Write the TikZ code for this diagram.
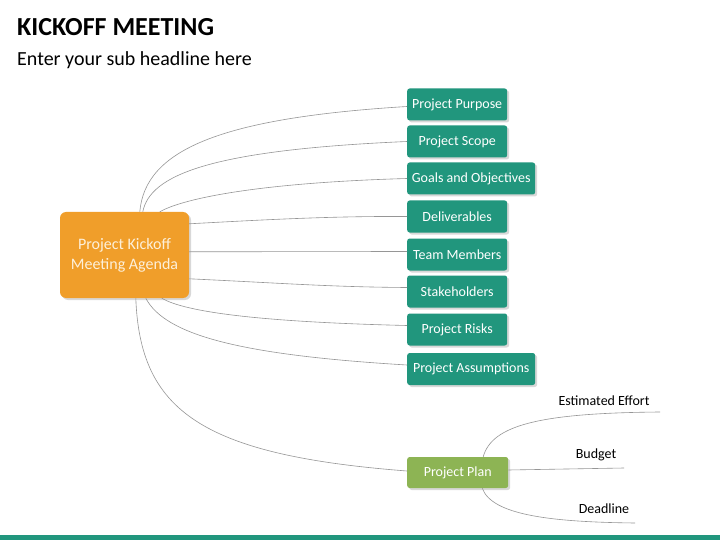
\documentclass[tikz,border=0pt]{standalone}
\usepackage{fontspec}
\setmainfont{Carlito}
\usetikzlibrary{shadows}
\definecolor{teal1}{RGB}{33,150,125}
\definecolor{orange1}{RGB}{240,158,42}
\definecolor{olive1}{RGB}{141,180,84}
\definecolor{cream}{RGB}{253,240,218}
\definecolor{lgray}{RGB}{150,150,150}
\tikzset{
  box/.style={rounded corners=2.5pt, minimum height=32pt, inner sep=0pt, anchor=west,
    text=white, font=\fontsize{14}{16}\selectfont,
    drop shadow={opacity=0.3, shadow xshift=2pt, shadow yshift=-2pt}},
  tbox/.style={box, fill=teal1, minimum width=100pt},
  wbox/.style={box, fill=teal1, minimum width=128pt},
  conn/.style={draw=lgray, line width=0.6pt},
  lbl/.style={font=\fontsize{14}{16}\selectfont, text=black}
}
\begin{document}
\begin{tikzpicture}[x=1pt, y=-1pt]
\useasboundingbox (0,0) rectangle (720,540);
\fill[white] (0,0) rectangle (720,540);
\fill[teal1] (0,535) rectangle (720,540);
\node[anchor=base west, inner sep=0pt, font=\fontsize{26}{30}\selectfont\bfseries] (title) at (17,36) {KICKOFF MEETING};
\node[anchor=base west, inner sep=0pt, font=\fontsize{20}{24}\selectfont] (sub) at (17,66) {Enter your sub headline here};

\node[fill=orange1, rounded corners=6pt, minimum width=129pt, minimum height=86pt, inner sep=0pt,
  text=cream, align=center, font=\fontsize{16}{20}\selectfont,
  drop shadow={opacity=0.3, shadow xshift=2pt, shadow yshift=-2pt}] (o) at (124.5,255) {Project Kickoff\\Meeting Agenda};

\node[tbox] (p1) at (407,104.5) {Project Purpose};
\node[tbox] (p2) at (407,141.5) {Project Scope};
\node[wbox] (p3) at (407,178.5) {Goals and Objectives};
\node[tbox] (p4) at (407,216.5) {Deliverables};
\node[tbox] (p5) at (407,254.5) {Team Members};
\node[tbox] (p6) at (407,291.5) {Stakeholders};
\node[tbox] (p7) at (407,329.5) {Project Risks};
\node[wbox] (p8) at (407,369) {Project Assumptions};
\node[box, fill=olive1, minimum width=101pt, minimum height=31pt] (pl) at (407,472.5) {Project Plan};

\draw[conn] ([xshift=80pt]o.north west) .. controls (145,150) and (220,118) .. ([yshift=-2pt]p1.west);
\draw[conn] ([xshift=83pt]o.north west) .. controls (150,175) and (210,150) .. ([yshift=0pt]p2.west);
\draw[conn] ([xshift=100pt]o.north west) .. controls (180,200) and (250,183) .. ([yshift=0pt]p3.west);
\draw[conn] ([yshift=-12pt]o.north east) .. controls (260,220) and (330,216) .. ([yshift=0pt]p4.west);
\draw[conn] ([yshift=-40pt]o.north east) -- ([yshift=3pt]p5.west);
\draw[conn] ([yshift=-67pt]o.north east) .. controls (280,283) and (330,287) .. ([yshift=4pt]p6.west);
\draw[conn] ([xshift=102pt]o.south west) .. controls (185,312) and (260,322) .. ([yshift=4pt]p7.west);
\draw[conn] ([xshift=86pt]o.south west) .. controls (165,335) and (240,355) .. ([yshift=4pt]p8.west);
\draw[conn] ([xshift=76pt]o.south west) .. controls (140,410) and (200,455) .. ([yshift=1.5pt]pl.west);

\coordinate (ee) at (660,412);
\coordinate (bu) at (624,468);
\coordinate (dl) at (635,523);
\draw[conn] ([xshift=25.5pt]pl.north) .. controls (492,425) and (540,413) .. (ee);
\draw[conn] ([yshift=2.5pt]pl.east) -- (bu);
\draw[conn] ([xshift=24.5pt]pl.south) .. controls (492,515) and (550,522) .. (dl);

\node[lbl] (l1) at (604,401) {Estimated Effort};
\node[lbl] (l2) at (596,455) {Budget};
\node[lbl] (l3) at (604,509) {Deadline};
\end{tikzpicture}
\end{document}
